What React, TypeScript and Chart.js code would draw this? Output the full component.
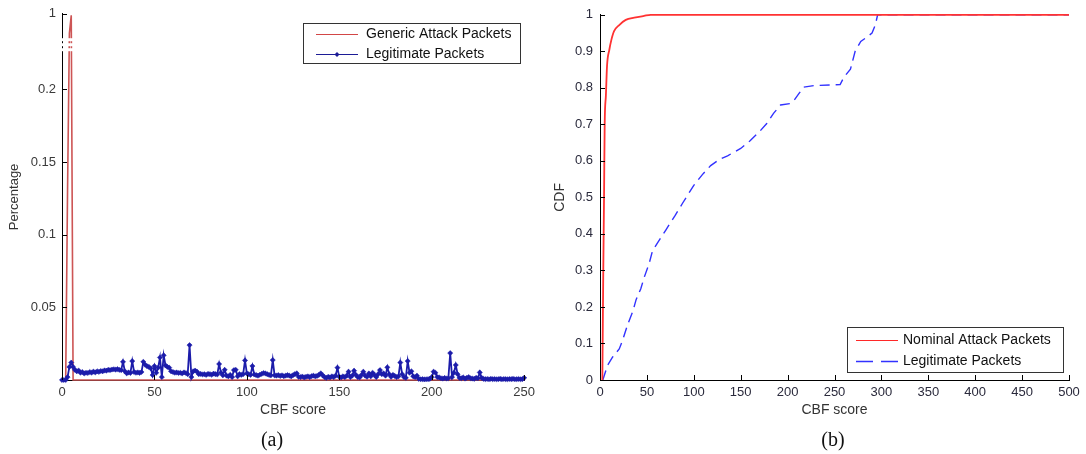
import React, { useEffect, useRef } from 'react';
import { Chart, registerables, LinearScale } from 'chart.js';

// ---------------- (a) data ----------------
// Legitimate packets: percentage per CBF score 0..250 (index = score)
const legitPercent: number[] = [
  0, 0, 0, 0.002, 0.009, 0.012, 0.009, 0.007, 0.006, 0.0065,
  0.005, 0.0055, 0.0045, 0.005, 0.0048, 0.0055, 0.005, 0.0058, 0.0052, 0.006,
  0.0056, 0.0062, 0.006, 0.0066, 0.0064, 0.007, 0.0068, 0.0072, 0.0074, 0.0071,
  0.0075, 0.007, 0.0068, 0.0125, 0.006, 0.0046, 0.0052, 0.0048, 0.013, 0.0055,
  0.005, 0.0052, 0.0049, 0.0055, 0.0125, 0.0105, 0.0095, 0.009, 0.008, 0.0034,
  0.0096, 0.005, 0.0085, 0.0155, 0.002, 0.017, 0.01, 0.009, 0.0085, 0.006,
  0.0055, 0.005, 0.0052, 0.0048, 0.005, 0.0045, 0.0052, 0.0048, 0.004, 0.024,
  0.002, 0.006, 0.0065, 0.0058, 0.004, 0.0042, 0.0038, 0.004, 0.0035, 0.0042,
  0.004, 0.0036, 0.0044, 0.004, 0.0038, 0.011, 0.005, 0.0032, 0.007, 0.003,
  0.0025, 0.0035, 0.002, 0.0068, 0.007, 0.0025, 0.004, 0.0035, 0.004, 0.0135,
  0.0045, 0.004, 0.0035, 0.0096, 0.0038, 0.0034, 0.003, 0.0036, 0.0042, 0.0048,
  0.0045, 0.004, 0.0035, 0.0032, 0.0137, 0.0032, 0.003, 0.0034, 0.0028, 0.0032,
  0.0026, 0.003, 0.0034, 0.003, 0.0025, 0.0034, 0.004, 0.0046, 0.0022, 0.002,
  0.0024, 0.0018, 0.0022, 0.0025, 0.002, 0.0026, 0.003, 0.0025, 0.0028, 0.0035,
  0.0046, 0.0032, 0.002, 0.0015, 0.0022, 0.0018, 0.0025, 0.002, 0.003, 0.0085,
  0.0022, 0.0018, 0.0025, 0.002, 0.003, 0.0057, 0.002, 0.003, 0.0064, 0.0035,
  0.002, 0.0018, 0.0035, 0.0057, 0.003, 0.0022, 0.0045, 0.0025, 0.005, 0.0035,
  0.002, 0.004, 0.0068, 0.004, 0.0045, 0.003, 0.0087, 0.004, 0.0022, 0.0035,
  0.0028, 0.002, 0.0025, 0.012, 0.004, 0.002, 0.0015, 0.013, 0.005, 0.006,
  0.0025, 0.002, 0.003, 0.0008, 0.0005, 0.0006, 0.0004, 0.0005, 0.0006, 0.0008,
  0.002, 0.0057, 0.005, 0.002, 0.0018, 0.0012, 0.001, 0.0014, 0.001, 0.0012,
  0.0185, 0.002, 0.005, 0.0103, 0.004, 0.0015, 0.0012, 0.0018, 0.001, 0.0015,
  0.002, 0.0012, 0.001, 0.0008, 0.0015, 0.0012, 0.0052, 0.0015, 0.0008, 0.0006,
  0.0007, 0.0005, 0.0008, 0.0006, 0.0007, 0.0005, 0.0006, 0.0008, 0.0005, 0.0007,
  0.0006, 0.0005, 0.0007, 0.0006, 0.0008, 0.0005, 0.0006, 0.0007, 0.0005, 0.0006,
  0.0015,
];
// Generic attack packets
const attackScoresA: number[] = [0, 2, 3, 4, 5, 6, 250];
const attackPercentA: number[] = [0, 0, 0.13, 0.6, 0.97, 0, 0];
const scoreTicksA: number[] = [0, 50, 100, 150, 200, 250];
const percentTicksA: number[] = [0.05, 0.1, 0.15, 0.2, 1];

// ---------------- (b) data ----------------
const nominalScores: number[] = [2.5, 3.5, 4.3, 5, 6.3, 7.5, 10, 12, 15, 20.5, 27.5, 36.5, 47, 54, 500];
const nominalCdf: number[] = [0, 0.3, 0.5, 0.7, 0.78, 0.86, 0.905, 0.93, 0.955, 0.972, 0.986, 0.992, 0.997, 1, 1];
const legitCdfScores: number[] = [3, 8, 13.5, 20.5, 24, 29.5, 35, 38.5, 43.5, 47, 52.5, 56, 61.5, 70, 80, 88, 100, 110, 118, 128, 136, 150, 160, 170, 178, 185, 192.5, 203, 207, 212, 217, 228, 256, 260, 267, 272, 278, 283, 290, 293.5, 296, 500];
const legitCdf: number[] = [0, 0.04, 0.063, 0.085, 0.108, 0.152, 0.188, 0.22, 0.25, 0.28, 0.32, 0.354, 0.376, 0.41, 0.45, 0.484, 0.533, 0.565, 0.587, 0.605, 0.614, 0.634, 0.655, 0.68, 0.703, 0.73, 0.753, 0.757, 0.766, 0.784, 0.802, 0.806, 0.809, 0.829, 0.851, 0.9, 0.927, 0.936, 0.95, 0.972, 1, 1];
const scoreTicksB: number[] = [0, 50, 100, 150, 200, 250, 300, 350, 400, 450, 500];
const cdfTicks: number[] = [0, 0.1, 0.2, 0.3, 0.4, 0.5, 0.6, 0.7, 0.8, 0.9, 1];

// ---------------- broken-axis scale ----------------
const BREAK_AT = 0.226;
const BREAK_TOP = 0.252;
function squash(v: number) {
  return v <= BREAK_AT ? v : BREAK_AT + ((v - BREAK_AT) * (BREAK_TOP - BREAK_AT)) / (1 - BREAK_AT);
}
function unsquash(s: number) {
  return s <= BREAK_AT ? s : BREAK_AT + ((s - BREAK_AT) * (1 - BREAK_AT)) / (BREAK_TOP - BREAK_AT);
}
class BrokenLinearScale extends LinearScale {
  static id = 'brokenLinear';
  static defaults = {};
  getPixelForValue(value: number) {
    const lo = squash(this.min);
    const hi = squash(this.max);
    return this.getPixelForDecimal((squash(value) - lo) / (hi - lo));
  }
  getValueForPixel(pixel: number) {
    const lo = squash(this.min);
    const hi = squash(this.max);
    return unsquash(lo + this.getDecimalForPixel(pixel) * (hi - lo));
  }
}

Chart.register(...registerables, BrokenLinearScale as any);
Chart.defaults.font.family = '"Liberation Sans", Arial, Helvetica, sans-serif';

// ---------------- plugins ----------------
const inwardTicks = {
  id: 'inwardTicks',
  afterDatasetsDraw(chart: any) {
    const { ctx, chartArea, scales } = chart;
    const len = 5;
    ctx.save();
    ctx.strokeStyle = '#000';
    ctx.lineWidth = 1;
    ctx.beginPath();
    scales.x.ticks.forEach((t: any) => {
      const px = Math.round(scales.x.getPixelForValue(t.value)) + 0.5;
      ctx.moveTo(px, chartArea.bottom);
      ctx.lineTo(px, chartArea.bottom - len);
    });
    scales.y.ticks.forEach((t: any) => {
      const py = Math.round(scales.y.getPixelForValue(t.value)) + 0.5;
      ctx.moveTo(chartArea.left, py);
      ctx.lineTo(chartArea.left + len, py);
    });
    ctx.stroke();
    ctx.restore();
  },
};

const breakMarks = {
  id: 'breakMarks',
  afterDatasetsDraw(chart: any, _args: any, opts: any) {
    if (!opts || !opts.enabled) return;
    const { ctx, chartArea, scales } = chart;
    const yTop = scales.y.getPixelForValue(opts.hi);
    const yBot = scales.y.getPixelForValue(opts.lo);
    ctx.save();
    ctx.fillStyle = '#fff';
    for (let y = yTop; y < yBot; y += 5) {
      ctx.fillRect(chartArea.left - 3, y, chartArea.right - chartArea.left + 3, 3);
    }
    ctx.restore();
  },
};

const boxLegend = {
  id: 'boxLegend',
  afterDraw(chart: any, _args: any, opts: any) {
    const { ctx } = chart;
    const { x, y, w, h, lineX0, lineX1, textX, rowY, items } = opts;
    ctx.save();
    ctx.fillStyle = '#fff';
    ctx.fillRect(x, y, w, h);
    ctx.strokeStyle = '#333';
    ctx.lineWidth = 1;
    ctx.setLineDash([]);
    ctx.strokeRect(x + 0.5, y + 0.5, w, h);
    items.forEach((it: any, i: number) => {
      const ds = chart.data.datasets[it.dataset];
      const yy = rowY[i] + 0.5;
      ctx.strokeStyle = it.color;
      ctx.lineWidth = it.width;
      ctx.setLineDash(it.dash || []);
      ctx.beginPath();
      ctx.moveTo(lineX0, yy);
      ctx.lineTo(lineX1, yy);
      ctx.stroke();
      ctx.setLineDash([]);
      if (it.marker) {
        const cx = (lineX0 + lineX1) / 2;
        ctx.fillStyle = it.color;
        ctx.beginPath();
        ctx.moveTo(cx, yy - 2.5);
        ctx.lineTo(cx + 2.5, yy);
        ctx.lineTo(cx, yy + 2.5);
        ctx.lineTo(cx - 2.5, yy);
        ctx.closePath();
        ctx.fill();
      }
      ctx.fillStyle = '#111';
      ctx.font = '14px "Liberation Sans", Arial, sans-serif';
      ctx.textBaseline = 'middle';
      ctx.textAlign = 'left';
      ctx.fillText(ds.label, textX, yy);
    });
    ctx.restore();
  },
};

const tickFont = { size: 13, family: '"Liberation Sans", Arial, sans-serif' };
const titleFont = { size: 14, family: '"Liberation Sans", Arial, sans-serif' };
const hiddenGrid = { display: false, drawTicks: false, tickLength: 0 };

function makeConfigA(): any {
  const legitPoints = legitPercent.map((v, i) => ({ x: i, y: v }));
  const attackPoints = attackScoresA.map((s, i) => ({ x: s, y: attackPercentA[i] }));
  return {
    type: 'line',
    data: {
      datasets: [
        {
          label: 'Generic Attack Packets',
          data: attackPoints,
          borderColor: 'rgb(205,85,85)',
          borderWidth: 1.6,
          pointRadius: 0,
          clip: false,
          order: 2,
        },
        {
          label: 'Legitimate Packets',
          data: legitPoints,
          borderColor: 'rgb(28,28,170)',
          borderWidth: 1.8,
          pointRadius: 2.6,
          pointStyle: 'rectRot',
          pointBackgroundColor: 'rgb(28,28,170)',
          pointBorderColor: 'rgb(28,28,170)',
          pointBorderWidth: 0.5,
          clip: false,
          order: 1,
        },
      ],
    },
    options: {
      responsive: false,
      animation: false,
      events: [],
      layout: { padding: { left: 0, right: 12, top: 12, bottom: 0 } },
      plugins: {
        legend: { display: false },
        tooltip: { enabled: false },
        breakMarks: { enabled: true, lo: BREAK_AT, hi: 0.5 },
        boxLegend: {
          x: 303, y: 23, w: 217, h: 40,
          lineX0: 316, lineX1: 358, textX: 366, rowY: [34, 54],
          items: [
            { dataset: 0, color: 'rgb(210,70,70)', width: 1.2 },
            { dataset: 1, color: 'rgb(28,28,150)', width: 1.2, marker: true },
          ],
        },
      },
      scales: {
        x: {
          type: 'linear',
          min: 0,
          max: 250,
          afterBuildTicks: (s: any) => { s.ticks = scoreTicksA.map((v) => ({ value: v })); },
          afterFit: (s: any) => { s.height = 74; },
          grid: hiddenGrid,
          border: { display: true, color: '#000', width: 1 },
          ticks: { padding: 5, font: tickFont, color: '#3a3a3a', maxRotation: 0, autoSkip: false, callback: (v: any) => String(v) },
          title: { display: true, text: 'CBF score', font: titleFont, color: '#333', padding: { top: 0, bottom: 35 } },
        },
        y: {
          type: 'brokenLinear',
          min: 0,
          max: 1,
          afterBuildTicks: (s: any) => { s.ticks = percentTicksA.map((v) => ({ value: v })); },
          afterFit: (s: any) => { s.width = 62; },
          grid: hiddenGrid,
          border: { display: true, color: '#000', width: 1 },
          ticks: { padding: 6, font: tickFont, color: '#3a3a3a', autoSkip: false, callback: (v: any) => String(v) },
          title: { display: true, text: 'Percentage', font: { size: 13, family: tickFont.family }, color: '#333', padding: { top: 6.2, bottom: 0 } },
        },
      },
    },
    plugins: [inwardTicks, breakMarks, boxLegend],
  };
}

function makeConfigB(): any {
  const nominalPoints = nominalScores.map((s, i) => ({ x: s, y: nominalCdf[i] }));
  const legitPoints = legitCdfScores.map((s, i) => ({ x: s, y: legitCdf[i] }));
  return {
    type: 'line',
    data: {
      datasets: [
        {
          label: 'Nominal Attack Packets',
          data: nominalPoints,
          borderColor: 'rgb(255,50,50)',
          borderWidth: 1.8,
          pointRadius: 0,
          cubicInterpolationMode: 'monotone',
          clip: false,
          order: 1,
        },
        {
          label: 'Legitimate Packets',
          data: legitPoints,
          borderColor: 'rgb(50,50,255)',
          borderWidth: 1.4,
          borderDash: [10, 6],
          pointRadius: 0,
          clip: false,
          order: 2,
        },
      ],
    },
    options: {
      responsive: false,
      animation: false,
      events: [],
      layout: { padding: { left: 0, right: 17, top: 8, bottom: 0 } },
      plugins: {
        legend: { display: false },
        tooltip: { enabled: false },
        boxLegend: {
          x: 307, y: 327, w: 216, h: 45,
          lineX0: 316, lineX1: 358, textX: 363, rowY: [340, 361],
          items: [
            { dataset: 0, color: 'rgb(255,40,40)', width: 1.2 },
            { dataset: 1, color: 'rgb(50,50,255)', width: 1.4, dash: [17, 8] },
          ],
        },
      },
      scales: {
        x: {
          type: 'linear',
          min: 0,
          max: 500,
          afterBuildTicks: (s: any) => { s.ticks = scoreTicksB.map((v) => ({ value: v })); },
          afterFit: (s: any) => { s.height = 74; },
          grid: hiddenGrid,
          border: { display: true, color: '#000', width: 1 },
          ticks: { padding: 5, font: tickFont, color: '#2a2a3c', maxRotation: 0, autoSkip: false, callback: (v: any) => String(v) },
          title: { display: true, text: 'CBF score', font: titleFont, color: '#333', padding: { top: 0, bottom: 35 } },
        },
        y: {
          type: 'linear',
          min: 0,
          max: 1,
          afterBuildTicks: (s: any) => { s.ticks = cdfTicks.map((v) => ({ value: v })); },
          afterFit: (s: any) => { s.width = 60; },
          grid: hiddenGrid,
          border: { display: true, color: '#000', width: 1 },
          ticks: { padding: 7, font: tickFont, color: '#2a2a3c', autoSkip: false, callback: (v: any) => String(v) },
          title: { display: true, text: 'CDF', font: titleFont, color: '#333', padding: { top: 11.6, bottom: 0 } },
        },
      },
    },
    plugins: [inwardTicks, boxLegend],
  };
}

export default function App() {
  const refA = useRef<HTMLCanvasElement | null>(null);
  const refB = useRef<HTMLCanvasElement | null>(null);

  useEffect(() => {
    const a = new Chart(refA.current as HTMLCanvasElement, makeConfigA());
    const b = new Chart(refB.current as HTMLCanvasElement, makeConfigB());
    return () => {
      a.destroy();
      b.destroy();
    };
  }, []);

  const caption: React.CSSProperties = {
    position: 'absolute',
    width: 100,
    top: 426,
    height: 26,
    lineHeight: '26px',
    textAlign: 'center',
    fontFamily: '"Liberation Serif", "Times New Roman", serif',
    fontSize: 20,
    color: '#111',
  };

  return (
    <div style={{ position: 'absolute', left: 0, top: 0, width: 1086, height: 454, background: '#fff', overflow: 'hidden' }}>
      <canvas ref={refA} width={540} height={454} style={{ position: 'absolute', left: 0, top: 0, width: 540, height: 454 }} />
      <canvas ref={refB} width={546} height={454} style={{ position: 'absolute', left: 540, top: 0, width: 546, height: 454 }} />
      <div style={{ ...caption, left: 222 }}>(a)</div>
      <div style={{ ...caption, left: 783 }}>(b)</div>
    </div>
  );
}
